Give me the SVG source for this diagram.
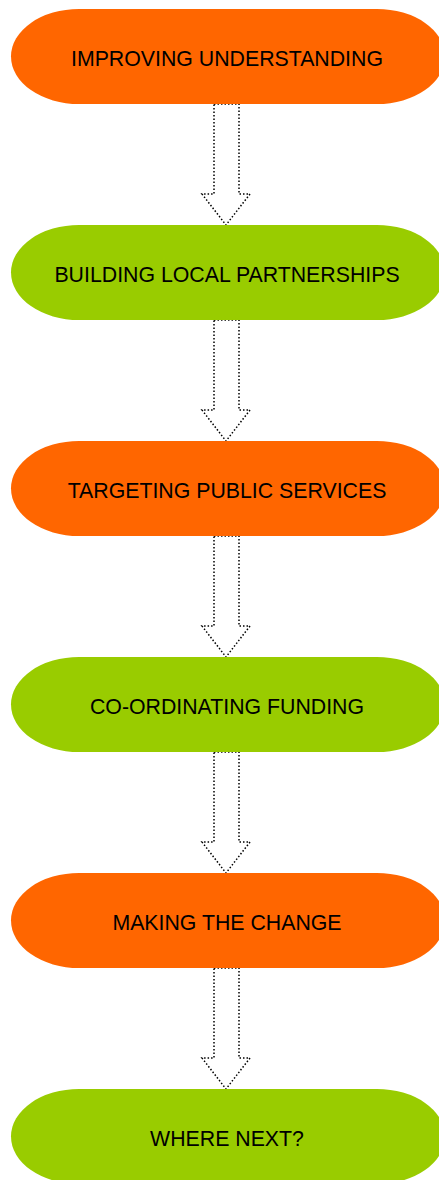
<svg xmlns="http://www.w3.org/2000/svg" width="439" height="1180" viewBox="0 0 439 1180">
<style>
.orange{fill:#FF6600}
.green{fill:#99CC00}
.lbl{font-family:"Liberation Sans",Arial,sans-serif;font-size:21.3px;fill:#000;text-anchor:middle}
.arr{fill:#fff;stroke:#000;stroke-width:1.5;stroke-dasharray:1.5 2}
</style>
<defs>
<path id="arrow" d="M214,104 L239,104 L239,194 L250,194 L226,225 L202,194 L214,194 Z"/>
</defs>
<g id="connectors">
<use href="#arrow" class="arr"/>
<use href="#arrow" class="arr" y="216"/>
<use href="#arrow" class="arr" y="432"/>
<use href="#arrow" class="arr" y="648"/>
<use href="#arrow" class="arr" y="864"/>
</g>
<g id="node1"><rect class="orange" x="11" y="9" width="434" height="95" rx="68" ry="47.5"/><text class="lbl" x="227" y="66">IMPROVING UNDERSTANDING</text></g>
<g id="node2"><rect class="green" x="11" y="225" width="434" height="95" rx="68" ry="47.5"/><text class="lbl" x="227" y="282">BUILDING LOCAL PARTNERSHIPS</text></g>
<g id="node3"><rect class="orange" x="11" y="441" width="434" height="95" rx="68" ry="47.5"/><text class="lbl" x="227" y="498">TARGETING PUBLIC SERVICES</text></g>
<g id="node4"><rect class="green" x="11" y="657" width="434" height="95" rx="68" ry="47.5"/><text class="lbl" x="227" y="714">CO-ORDINATING FUNDING</text></g>
<g id="node5"><rect class="orange" x="11" y="873" width="434" height="95" rx="68" ry="47.5"/><text class="lbl" x="227" y="930">MAKING THE CHANGE</text></g>
<g id="node6"><rect class="green" x="11" y="1089" width="434" height="95" rx="68" ry="47.5"/><text class="lbl" x="227" y="1146">WHERE NEXT?</text></g>
</svg>
